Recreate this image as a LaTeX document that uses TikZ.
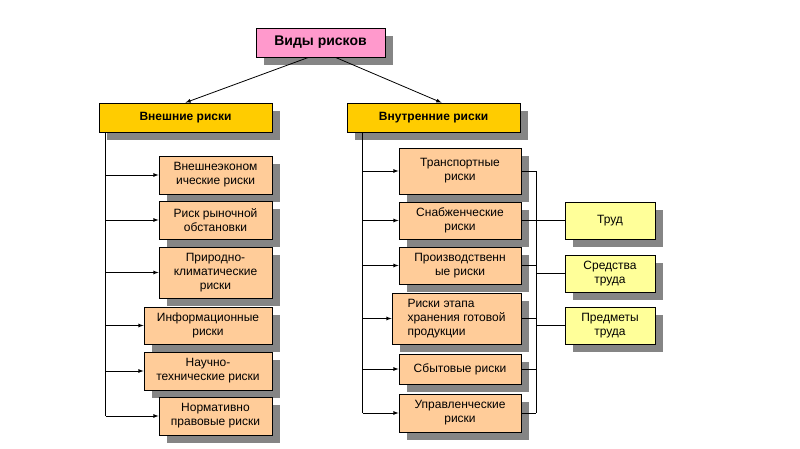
\documentclass[tikz,border=0pt]{standalone}
\usepackage{fontspec}
\setmainfont{Liberation Sans}
\usetikzlibrary{shadows}
\definecolor{toppink}{HTML}{FF99CC}
\definecolor{headgold}{HTML}{FFCC00}
\definecolor{riskpeach}{HTML}{FFCC99}
\definecolor{factoryellow}{HTML}{FFFF99}
\definecolor{boxshadow}{HTML}{858585}
\tikzset{
  box/.style={draw, line width=0.8pt, inner sep=1pt, align=center,
    font=\fontsize{12}{14}\selectfont,
    drop shadow={shadow xshift=8pt, shadow yshift=-8pt, fill=boxshadow, opacity=1}},
  topbox/.style={box, fill=toppink, minimum width=129, minimum height=29,
    font=\fontsize{14}{16}\selectfont\bfseries},
  headbox/.style={box, fill=headgold, minimum width=173, minimum height=29,
    font=\fontsize{12}{14}\selectfont\bfseries},
  riskbox/.style={box, fill=riskpeach},
  factorbox/.style={box, fill=factoryellow, minimum width=90, minimum height=37},
  link/.style={line width=0.8pt}
}
\begin{document}
\begin{tikzpicture}[x=1pt, y=-1pt]
	\useasboundingbox (0,0) rectangle (800,449);
	\node[topbox] (top) at (320.5,42.5) {Виды рисков};
	\node[headbox] (ext) at (185.5,117.5) {Внешние риски};
	\node[headbox] (int) at (433.5,117.5) {Внутренние риски};
	% external risks
	\node[riskbox, minimum width=113, minimum height=38] (l1) at (215.5,175) {Внешнеэконом\\ические риски};
	\node[riskbox, minimum width=113, minimum height=38] (l2) at (215.5,220) {Риск рыночной\\обстановки};
	\node[riskbox, minimum width=113, minimum height=51] (l3) at (215.5,272.5) {Природно-\\климатические\\риски};
	\node[riskbox, minimum width=128, minimum height=37] (l4) at (208,325.5) {Информационные\\риски};
	\node[riskbox, minimum width=128, minimum height=38] (l5) at (208,371) {Научно-\\технические риски};
	\node[riskbox, minimum width=113, minimum height=38] (l6) at (215.5,416) {Нормативно\\правовые риски};
	% internal risks
	\node[riskbox, minimum width=122, minimum height=46] (r1) at (460,171) {Транспортные\\риски};
	\node[riskbox, minimum width=122, minimum height=37] (r2) at (460,220.5) {Снабженческие\\риски};
	\node[riskbox, minimum width=122, minimum height=37] (r3) at (460,265.5) {Производственн\\ые риски};
	\node[riskbox, minimum width=129, minimum height=51, align=left] (r4) at (456.5,318.5) {Риски этапа\\хранения готовой\\продукции};
	\node[riskbox, minimum width=122, minimum height=30] (r5) at (460,369) {Сбытовые риски};
	\node[riskbox, minimum width=122, minimum height=38] (r6) at (460,413) {Управленческие\\риски};
	% factors
	\node[factorbox] (f1) at (610,220.5) {Труд};
	\node[factorbox] (f2) at (610,273.5) {Средства\\труда};
	\node[factorbox] (f3) at (610,325.5) {Предметы\\труда};
	% connectors
	\draw[link, -latex] ([xshift=-12]top.south) -- (ext.north);
	\draw[link, -latex] ([xshift=15]top.south) -- ([xshift=8]int.north);
	\coordinate (ltrunk) at ([xshift=7]ext.south west);
	\draw[link] (ltrunk) -- (ltrunk |- l6.west);
	\foreach \n in {l1,l2,l3,l4,l5,l6}
		\draw[link, -latex] (ltrunk |- \n.west) -- (\n.west);
	\coordinate (rtrunk) at ([xshift=16]int.south west);
	\draw[link] (rtrunk) -- (rtrunk |- r6.west);
	\foreach \n in {r1,r2,r3,r4,r5,r6}
		\draw[link, -latex] (rtrunk |- \n.west) -- (\n.west);
	\coordinate (rbus) at ([xshift=15]r1.east);
	\draw[link] (rbus) -- (rbus |- r6.east);
	\foreach \n in {r1,r3,r4,r5,r6}
		\draw[link] (\n.east) -- (rbus |- \n.east);
	\draw[link] (r2.east) -- (f1.west);
	\draw[link] (rbus |- f2.west) -- (f2.west);
	\draw[link] (rbus |- f3.west) -- (f3.west);
\end{tikzpicture}
\end{document}
